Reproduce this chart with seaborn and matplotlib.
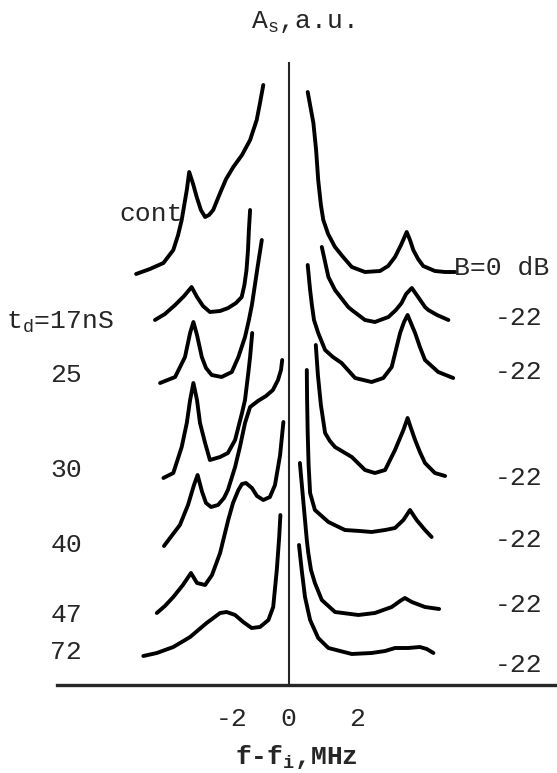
import pandas as pd
import matplotlib
matplotlib.use("Agg")
import matplotlib.pyplot as plt
import seaborn as sns

# spectra A_s(f - f_i); x in MHz, y in a.u.
# every trace is drawn as two halves (left / right of the carrier gap)
cont_left_x = [-5.08, -4.62, -4.17, -3.84, -3.68, -3.56, -3.39, -3.31, -3.18, -3.06, -2.92, -2.78, -2.65, -2.51, -2.28, -2.08, -1.84, -1.55, -1.28, -1.06, -0.95, -0.84]
cont_left_y = [41.1, 41.6, 42.2, 43.5, 45.0, 46.5, 49.5, 51.3, 50.1, 48.8, 47.5, 46.8, 47.0, 47.5, 49.2, 50.6, 51.8, 53.0, 54.5, 56.5, 58.2, 60.0]
cont_right_x = [0.64, 0.83, 0.92, 0.99, 1.08, 1.16, 1.32, 1.55, 1.82, 2.11, 2.55, 3.05, 3.32, 3.55, 3.75, 3.94, 4.05, 4.16, 4.32, 4.49, 4.88, 5.22, 5.55]
cont_right_y = [59.3, 56.2, 53.5, 50.5, 48.0, 46.5, 45.1, 43.8, 42.8, 41.8, 41.3, 41.4, 41.9, 42.8, 44.0, 45.3, 44.5, 43.5, 42.6, 41.9, 41.4, 41.3, 41.3]

t17_left_x = [-4.45, -4.12, -3.78, -3.48, -3.23, -3.05, -2.85, -2.62, -2.28, -2.01, -1.75, -1.56, -1.47, -1.40, -1.35, -1.32, -1.28]
t17_left_y = [36.5, 37.1, 38.0, 38.9, 39.8, 38.8, 37.9, 37.3, 37.4, 37.7, 38.2, 38.8, 40.0, 41.5, 43.5, 45.5, 47.5]
t17_right_x = [1.11, 1.22, 1.33, 1.55, 1.99, 2.11, 2.55, 2.88, 3.33, 3.58, 3.77, 3.92, 4.11, 4.32, 4.55, 4.66, 4.95, 5.33]
t17_right_y = [43.8, 42.3, 40.8, 39.5, 37.8, 37.5, 36.5, 36.3, 36.8, 37.5, 38.2, 39.1, 39.7, 38.8, 37.8, 37.5, 37.0, 36.5]

t25_left_x = [-4.28, -3.78, -3.45, -3.28, -3.17, -3.05, -2.89, -2.75, -2.56, -2.23, -1.89, -1.67, -1.45, -1.32, -1.22, -1.12, -1.02, -0.89]
t25_left_y = [30.2, 30.8, 32.8, 35.2, 36.3, 35.0, 32.8, 31.7, 31.0, 30.8, 31.3, 32.8, 34.8, 36.5, 38.0, 40.0, 42.0, 44.5]
t25_right_x = [0.64, 0.72, 0.78, 0.85, 0.99, 1.22, 1.48, 1.77, 2.22, 2.77, 3.16, 3.44, 3.58, 3.72, 3.85, 3.97, 4.08, 4.22, 4.38, 4.55, 4.99, 5.49]
t25_right_y = [42.0, 39.5, 38.0, 36.5, 35.2, 33.5, 32.8, 32.2, 30.7, 30.3, 30.7, 31.8, 33.5, 35.2, 36.3, 37.0, 36.2, 35.2, 33.8, 32.5, 31.3, 30.7]

t30_left_x = [-4.17, -3.84, -3.56, -3.39, -3.28, -3.17, -3.05, -2.95, -2.78, -2.62, -2.28, -2.02, -1.78, -1.67, -1.55, -1.45, -1.34, -1.28, -1.21]
t30_left_y = [20.7, 21.2, 23.8, 26.2, 28.5, 30.2, 28.5, 26.2, 24.2, 22.5, 22.8, 23.2, 24.5, 25.8, 27.2, 28.5, 31.2, 32.8, 35.2]
t30_right_x = [0.91, 0.98, 1.08, 1.22, 1.38, 1.55, 2.11, 2.55, 2.88, 3.22, 3.55, 3.83, 3.97, 4.08, 4.22, 4.38, 4.55, 4.88, 5.22]
t30_right_y = [34.0, 31.0, 28.0, 25.2, 24.4, 23.8, 22.8, 21.5, 21.2, 21.5, 23.5, 25.5, 26.7, 25.7, 24.5, 23.3, 22.2, 21.2, 20.9]

t40_left_x = [-4.15, -3.95, -3.62, -3.35, -3.15, -3.03, -2.88, -2.75, -2.58, -2.35, -2.15, -2.02, -1.78, -1.62, -1.45, -1.28, -1.02, -0.75, -0.52, -0.35, -0.25, -0.21]
t40_left_y = [13.9, 14.7, 16.0, 18.0, 20.0, 21.0, 19.3, 18.2, 17.8, 18.0, 18.7, 19.5, 21.8, 23.8, 26.2, 27.8, 28.4, 28.9, 29.5, 30.5, 31.5, 32.5]
t40_right_x = [0.61, 0.62, 0.64, 0.67, 0.72, 0.88, 1.33, 1.88, 2.38, 2.77, 3.22, 3.55, 3.83, 4.05, 4.27, 4.55, 4.77]
t40_right_y = [31.5, 28.5, 25.2, 22.0, 19.2, 17.5, 16.3, 15.5, 15.4, 15.3, 15.5, 15.7, 16.5, 17.5, 16.5, 15.5, 14.8]

t47_left_x = [-4.39, -4.12, -3.84, -3.52, -3.25, -3.05, -2.78, -2.55, -2.28, -2.01, -1.85, -1.67, -1.55, -1.42, -1.22, -1.05, -0.84, -0.62, -0.45, -0.28, -0.17]
t47_left_y = [7.2, 7.9, 8.8, 10.0, 11.2, 10.2, 10.0, 11.0, 13.2, 16.5, 18.2, 19.5, 20.1, 20.2, 19.7, 18.9, 18.5, 18.8, 20.0, 23.0, 26.3]
t47_right_x = [0.38, 0.43, 0.49, 0.55, 0.61, 0.66, 0.75, 0.88, 1.11, 1.55, 2.33, 2.88, 3.44, 3.72, 3.88, 4.11, 4.55, 5.02]
t47_right_y = [22.2, 20.5, 18.5, 16.5, 14.5, 13.2, 11.5, 10.2, 8.5, 7.3, 7.0, 7.2, 7.8, 8.4, 8.7, 8.3, 7.8, 7.6]

t72_left_x = [-4.84, -4.39, -3.84, -3.28, -2.73, -2.28, -2.06, -1.78, -1.51, -1.23, -0.95, -0.67, -0.51, -0.39, -0.31, -0.27]
t72_left_y = [2.9, 3.2, 3.8, 4.8, 6.2, 7.2, 7.3, 7.0, 6.3, 5.7, 5.8, 6.5, 7.8, 11.5, 14.8, 17.0]
t72_right_x = [0.35, 0.44, 0.55, 0.72, 0.99, 1.33, 2.11, 2.77, 3.22, 3.55, 3.99, 4.38, 4.61, 4.83]
t72_right_y = [14.0, 11.5, 8.8, 6.5, 4.7, 3.7, 3.1, 3.2, 3.4, 3.7, 3.7, 3.8, 3.6, 3.2]

delay_labels = ["cont", "$\\mathregular{t_d}$=17nS", "25", "30", "40", "47", "72"]
atten_labels = ["B=0 dB", "-22", "-22", "-22", "-22", "-22", "-22"]
tick_pos = [-3.59, -2.75, -1.89, -1.04, 0, 1.11, 2.27, 3.64, 4.92]
tick_labels = ["", "", "-2", "", "0", "", "2", "", ""]

halves = {
    "cont_L": (cont_left_x, cont_left_y), "cont_R": (cont_right_x, cont_right_y),
    "17_L": (t17_left_x, t17_left_y), "17_R": (t17_right_x, t17_right_y),
    "25_L": (t25_left_x, t25_left_y), "25_R": (t25_right_x, t25_right_y),
    "30_L": (t30_left_x, t30_left_y), "30_R": (t30_right_x, t30_right_y),
    "40_L": (t40_left_x, t40_left_y), "40_R": (t40_right_x, t40_right_y),
    "47_L": (t47_left_x, t47_left_y), "47_R": (t47_right_x, t47_right_y),
    "72_L": (t72_left_x, t72_left_y), "72_R": (t72_right_x, t72_right_y),
}
frames = []
for name, (xs, ys) in halves.items():
    frames.append(pd.DataFrame({"f": xs, "A": ys, "trace": name}))
df = pd.concat(frames, ignore_index=True)

sns.set_style("white")
plt.rcParams["font.family"] = ["Liberation Mono", "DejaVu Sans Mono"]
plt.rcParams["font.size"] = 19

W, H = 557, 773
fig = plt.figure(figsize=(W / 100, H / 100), dpi=100)
ax = fig.add_axes([0, 0, 1, 1])

sns.lineplot(data=df, x="f", y="A", units="trace", estimator=None, sort=False,
             color="black", linewidth=2.8, ax=ax, legend=False)

ax.set_xlim(-288.5 / 30, (W - 288.5) / 30)
ax.set_ylim((685 - H) / 10, 68.5)
ax.set_xlabel("")
ax.set_ylabel("")

for side in ["top", "right"]:
    ax.spines[side].set_visible(False)
ax.spines["left"].set_position(("data", 0))
ax.spines["left"].set_bounds(0, 62.2)
ax.spines["left"].set_linewidth(1.5)
ax.spines["bottom"].set_position(("data", 0))
ax.spines["bottom"].set_bounds(-7.72, (W - 288.5) / 30)
ax.spines["bottom"].set_linewidth(2.4)
ax.set_yticks([])
ax.set_xticks(tick_pos)
ax.set_xticklabels(tick_labels)
ax.tick_params(axis="x", direction="in", length=4, width=1.6, pad=16, labelsize=19)


def put(px, py, s, **kw):
    fig.text(px / W, 1 - py / H, s, va="center", **kw)


put(302, 22, "A$\\mathregular{_s}$,a.u.", ha="center")
put(296, 757, "f-f$\\mathregular{_i}$,MHz", ha="center", fontweight="bold")

put(151, 214, delay_labels[0], ha="center")
put(6, 322, delay_labels[1], ha="left")
for lab, py in zip(delay_labels[2:], [375, 470, 545, 615, 652]):
    put(66, py, lab, ha="center")

put(454, 268, atten_labels[0], ha="left")
for lab, py in zip(atten_labels[1:], [318, 372, 478, 540, 605, 665]):
    put(519, py, lab, ha="center")

fig.savefig("out.png", dpi=100)
